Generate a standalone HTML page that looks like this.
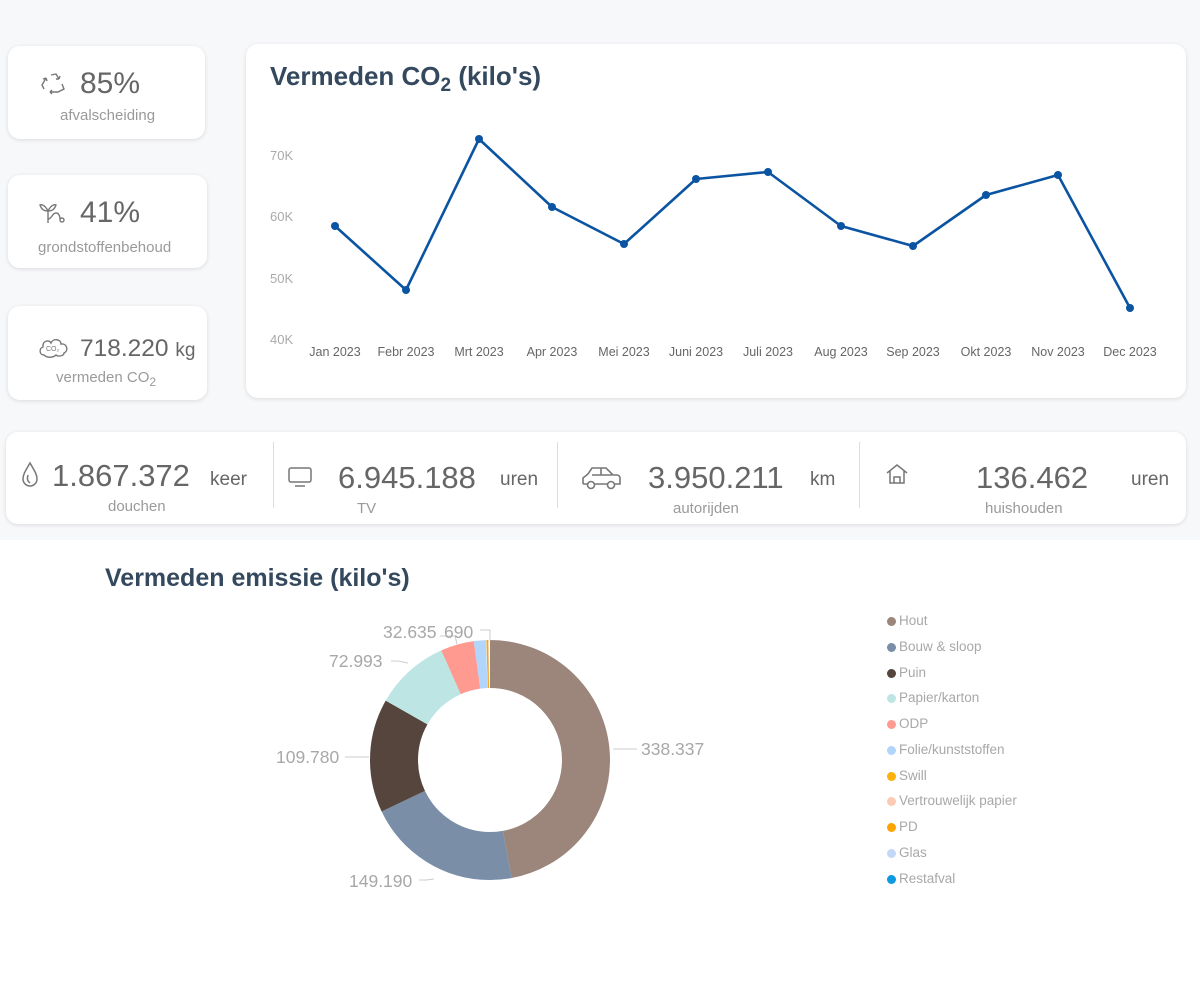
<!DOCTYPE html>
<html><head><meta charset="utf-8"><style>
body{margin:0;width:1200px;height:1003px;background:#fff;font-family:"Liberation Sans",sans-serif;position:relative;overflow:hidden}
.bg{position:absolute;left:0;top:0;width:1200px;height:540px;background:#f7f8fa}
.card{position:absolute;background:#fff;border-radius:12px;box-shadow:0 1px 4px rgba(0,0,0,.12)}
.big{position:absolute;color:#666;font-size:30px;white-space:nowrap}
.b2{font-size:31px}
.sub{position:absolute;color:#9a9a9a;font-size:15px;white-space:nowrap}
.unit{position:absolute;color:#666;font-size:19px}
.lg{position:absolute;left:887px;font-size:13.5px;color:#a8a8a8}
.lg i{display:inline-block;width:9px;height:9px;border-radius:50%;margin-right:3px;vertical-align:-1px}
</style></head><body>
<div class="bg"></div>
<div class="card" style="left:8px;top:46px;width:197px;height:93px"></div>
<div class="card" style="left:8px;top:175px;width:199px;height:93px"></div>
<div class="card" style="left:8px;top:306px;width:199px;height:94px"></div>
<div class="card" style="left:246px;top:44px;width:940px;height:354px"></div>
<div class="card" style="left:6px;top:432px;width:1180px;height:92px"></div>

<svg style="position:absolute;left:40px;top:71px" width="28" height="26" viewBox="0 0 28 26" fill="none" stroke="#777" stroke-width="1.4"><path d="M4 18 L2 14 L6 7 M6 7 L3 8 M6 7 L7 10 M11 4 L16 3 L19 8 M19 8 L20 5 M19 8 L16 8 M22 13 L24 18 L18 21 L10 21 M10 21 L12 19 M10 21 L12 23"/></svg>
<div class="big" style="left:80px;top:67px">85%</div>
<div class="sub" style="left:60px;top:107px">afvalscheiding</div>
<svg style="position:absolute;left:38px;top:199px" width="30" height="26" viewBox="0 0 30 26" fill="none" stroke="#777" stroke-width="1.4"><path d="M10 24 V12 M10 12 C6 4 2 6 2 6 C4 12 8 12 10 12 M10 12 C14 4 18 6 18 6 C16 12 12 12 10 12 M10 20 C14 20 14 14 18 14 C22 14 22 20 22 20"/><circle cx="24" cy="21" r="2"/></svg>
<div class="big" style="left:80px;top:196px">41%</div>
<div class="sub" style="left:38px;top:239px">grondstoffenbehoud</div>
<svg style="position:absolute;left:38px;top:335px" width="32" height="24" viewBox="0 0 32 24" fill="none" stroke="#777" stroke-width="1.4"><path d="M6 20 C1 20 1 13 5 12 C4 6 11 4 13 8 C15 3 23 4 23 9 C29 8 31 16 26 18 C26 21 20 22 18 20 C15 23 9 23 6 20Z"/><text x="8" y="16" font-size="7" fill="#777" stroke="none" font-family="Liberation Sans">CO₂</text></svg>
<div class="big" style="left:80px;top:335px;font-size:24.5px">718.220 <span style="font-size:19px">kg</span></div>
<div class="sub" style="left:56px;top:369px">vermeden CO<sub style="font-size:12px">2</sub></div>

<div style="position:absolute;left:270px;top:61px;font-size:26px;font-weight:bold;color:#34495e">Vermeden CO<sub style="font-size:19px">2</sub> (kilo's)</div>
<svg style="position:absolute;left:0;top:0" width="1200" height="400">
<g font-size="13" fill="#aaa" font-family="Liberation Sans">
<text x="270" y="160">70K</text><text x="270" y="221">60K</text><text x="270" y="283">50K</text><text x="270" y="344">40K</text>
</g>
<g font-size="12.5" fill="#666" text-anchor="middle" font-family="Liberation Sans">
<text x="335" y="356">Jan 2023</text><text x="406" y="356">Febr 2023</text><text x="479" y="356">Mrt 2023</text><text x="552" y="356">Apr 2023</text><text x="624" y="356">Mei 2023</text><text x="696" y="356">Juni 2023</text><text x="768" y="356">Juli 2023</text><text x="841" y="356">Aug 2023</text><text x="913" y="356">Sep 2023</text><text x="986" y="356">Okt 2023</text><text x="1058" y="356">Nov 2023</text><text x="1130" y="356">Dec 2023</text>
</g>
<polyline fill="none" stroke="#0b54a2" stroke-width="2.6" stroke-linejoin="round" points="335,226 406,290 479,139 552,207 624,244 696,179 768,172 841,226 913,246 986,195 1058,175 1130,308"/>
<g fill="#0b54a2"><circle cx="335" cy="226" r="4"/><circle cx="406" cy="290" r="4"/><circle cx="479" cy="139" r="4"/><circle cx="552" cy="207" r="4"/><circle cx="624" cy="244" r="4"/><circle cx="696" cy="179" r="4"/><circle cx="768" cy="172" r="4"/><circle cx="841" cy="226" r="4"/><circle cx="913" cy="246" r="4"/><circle cx="986" cy="195" r="4"/><circle cx="1058" cy="175" r="4"/><circle cx="1130" cy="308" r="4"/></g>
</svg>

<div style="position:absolute;left:273px;top:442px;width:1px;height:66px;background:#ddd"></div>
<div style="position:absolute;left:557px;top:442px;width:1px;height:66px;background:#ddd"></div>
<div style="position:absolute;left:859px;top:442px;width:1px;height:66px;background:#ddd"></div>
<svg style="position:absolute;left:20px;top:461px" width="20" height="28" viewBox="0 0 20 28" fill="none" stroke="#777" stroke-width="1.5"><path d="M10 2 C6 9 3 13 3 18 A7 7 0 0 0 17 18 C17 13 14 9 10 2Z M8 14 C7 17 7 20 10 22"/></svg>
<div class="big b2" style="left:52px;top:458px">1.867.372</div>
<div class="unit" style="left:210px;top:469px">keer</div>
<div class="sub" style="left:108px;top:498px">douchen</div>
<svg style="position:absolute;left:287px;top:466px" width="26" height="22" viewBox="0 0 26 22" fill="none" stroke="#777" stroke-width="1.5"><rect x="2" y="2" width="22" height="14" rx="2"/><path d="M8 20 H18"/></svg>
<div class="big b2" style="left:338px;top:460px">6.945.188</div>
<div class="unit" style="left:500px;top:469px">uren</div>
<div class="sub" style="left:357px;top:500px">TV</div>
<svg style="position:absolute;left:580px;top:465px" width="42" height="26" viewBox="0 0 42 26" fill="none" stroke="#777" stroke-width="1.6"><path d="M3 19 V13 L8 9 L12 3 H26 L33 10 H37 A3 3 0 0 1 40 13 V19 H35 M27 19 H15 M7 19 H3 M12 10 H32 M21 3 V10"/><circle cx="11" cy="20" r="3.5"/><circle cx="31" cy="20" r="3.5"/></svg>
<div class="big b2" style="left:648px;top:460px">3.950.211</div>
<div class="unit" style="left:810px;top:469px">km</div>
<div class="sub" style="left:673px;top:500px">autorijden</div>
<svg style="position:absolute;left:885px;top:462px" width="24" height="24" viewBox="0 0 24 24" fill="none" stroke="#777" stroke-width="1.5"><path d="M2 11 L12 3 L22 11 M5 9 V21 H19 V9 M9 21 V15 H15 V21"/></svg>
<div class="big b2" style="left:976px;top:460px">136.462</div>
<div class="unit" style="left:1131px;top:469px">uren</div>
<div class="sub" style="left:985px;top:500px">huishouden</div>

<div style="position:absolute;left:105px;top:564px;font-size:25px;font-weight:bold;color:#34495e">Vermeden emissie (kilo's)</div>
<svg style="position:absolute;left:0;top:560px" width="860" height="360">
<g transform="translate(490,200) rotate(-90)" fill="none" stroke-width="48">
<circle r="96" stroke="#9c857b" stroke-dasharray="284.1 603.2" stroke-dashoffset="0"/>
<circle r="96" stroke="#7a8ea8" stroke-dasharray="125.5 603.2" stroke-dashoffset="-284.1"/>
<circle r="96" stroke="#56453d" stroke-dasharray="92.3 603.2" stroke-dashoffset="-409.6"/>
<circle r="96" stroke="#bde5e4" stroke-dasharray="60.9 603.2" stroke-dashoffset="-501.9"/>
<circle r="96" stroke="#fe9a90" stroke-dasharray="27.1 603.2" stroke-dashoffset="-562.8"/>
<circle r="96" stroke="#b2d6fb" stroke-dasharray="9.7 603.2" stroke-dashoffset="-589.9"/>
<circle r="96" stroke="#f5a623" stroke-dasharray="1.6 603.2" stroke-dashoffset="-600.0"/>
</g>
<g stroke="#ccc" fill="none" stroke-width="1">
<path d="M613 189 H637"/><path d="M369 197 H345"/><path d="M434 319 L426 320 H419"/><path d="M408 103 L398 101 H391"/><path d="M457 84 L455 76 H440"/><path d="M490 81 V70 H480"/>
</g>
<g fill="#a8a8a8" font-size="17.5" font-family="Liberation Sans">
<text x="641" y="195">338.337</text>
<text x="276" y="203">109.780</text>
<text x="349" y="327">149.190</text>
<text x="329" y="107">72.993</text>
<text x="383" y="78">32.635</text>
<text x="444" y="78">690</text>
</g>
</svg>
<div class="lg" style="top:613px"><i style="background:#9c857b"></i>Hout</div>
<div class="lg" style="top:639px"><i style="background:#7a8ea8"></i>Bouw &amp; sloop</div>
<div class="lg" style="top:665px"><i style="background:#56453d"></i>Puin</div>
<div class="lg" style="top:690px"><i style="background:#bde5e4"></i>Papier/karton</div>
<div class="lg" style="top:716px"><i style="background:#fe9a90"></i>ODP</div>
<div class="lg" style="top:742px"><i style="background:#b2d6fb"></i>Folie/kunststoffen</div>
<div class="lg" style="top:768px"><i style="background:#fcb10b"></i>Swill</div>
<div class="lg" style="top:793px"><i style="background:#fdcab4"></i>Vertrouwelijk papier</div>
<div class="lg" style="top:819px"><i style="background:#fca502"></i>PD</div>
<div class="lg" style="top:845px"><i style="background:#c3d8f7"></i>Glas</div>
<div class="lg" style="top:871px"><i style="background:#0e9ae0"></i>Restafval</div>
</body></html>
